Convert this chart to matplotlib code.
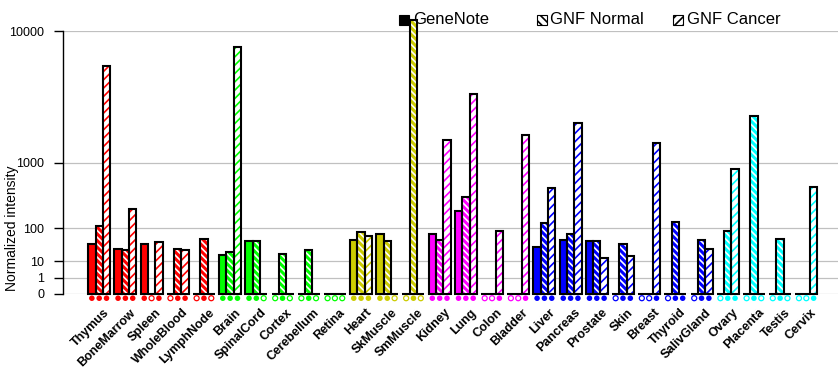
import numpy as np
import matplotlib
matplotlib.use("Agg")
import matplotlib.pyplot as plt
from matplotlib.patches import Rectangle
from matplotlib.transforms import ScaledTranslation, blended_transform_factory

nan = np.nan

# tissues in display order, and the colour of their group
tissues = ["Thymus", "BoneMarrow", "Spleen", "WholeBlood", "LymphNode",
           "Brain", "SpinalCord", "Cortex", "Cerebellum", "Retina",
           "Heart", "SkMuscle", "SmMuscle",
           "Kidney", "Lung", "Colon", "Bladder",
           "Liver", "Pancreas", "Prostate", "Skin", "Breast", "Thyroid", "SalivGland",
           "Ovary", "Placenta", "Testis", "Cervix"]
group_sizes = [5, 5, 3, 4, 7, 4]
group_colors = ["#ff0000", "#00ff00", "#cccc00", "#ff00ff", "#0000ff", "#00ffff"]

# nan = no data (open marker), number = measured (filled marker)
genenote = [40, 29, 40, nan, nan, 17.6, 48, nan, nan, nan,
            53, 75, nan,
            75, 219, nan, nan,
            33, 51, 48, nan, nan, nan, nan,
            nan, nan, nan, nan]
gnf_normal = [114, 27, nan, 29, 56, 23, 48, 19.6, 27, nan,
              81, 48, 11500,
              53, 366, nan, nan,
              127, 75, 48, 41, nan, 137, 51,
              88, 2740, 56, nan]
gnf_cancer = [6200, 237, 45, 25.7, nan, 8100, nan, nan, nan, nan,
              67, nan, nan,
              1700, 4050, 85, 1880,
              491, 2390, 13.9, 16.6, 1590, 0, 29,
              848, nan, nan, 507]

yticks = [0, 1, 10, 100, 1000, 10000]

# each decade takes half the height of the next one -> power scale
p = np.log10(2)
fwd = lambda v: np.sign(v) * np.abs(v) ** p
inv = lambda v: np.sign(v) * np.abs(v) ** (1 / p)

plt.rcParams['font.family'] = ['Liberation Sans', 'DejaVu Sans']
plt.rcParams['hatch.linewidth'] = 1.2

colors = [c for c, n in zip(group_colors, group_sizes) for _ in range(n)]
x = np.arange(len(tissues))
w = 0.28

fig = plt.figure(figsize=(8.4, 3.85), dpi=100)
ax = fig.add_axes([63 / 840, 1 - 294 / 385, 775 / 840, 263 / 385])
ax.set_yscale('function', functions=(fwd, inv))
ax.set_ylim(0, 10000)
ax.set_xlim(-1.382, 28.21)

series = [(genenote, -w, None), (gnf_normal, 0, '\\\\\\\\\\'), (gnf_cancer, w, '////')]
for vals, off, hatch in series:
    vals = np.array(vals, dtype=float)
    h = np.nan_to_num(vals)
    if hatch is None:
        ax.bar(x + off, h, w, color=colors, linewidth=0, zorder=3, clip_on=False)
    elif hatch.startswith('\\'):
        ax.bar(x + off, h, w, color=colors, edgecolor='white', hatch=hatch,
               linewidth=0, zorder=3, clip_on=False)
    else:
        ax.bar(x + off, h, w, color='white', edgecolor=colors, hatch=hatch,
               linewidth=0, zorder=3, clip_on=False)
    ax.bar(x + off, h, w, fill=False, edgecolor='black', linewidth=1.5,
           zorder=4, clip_on=False)

    # availability markers under the bars
    trans = blended_transform_factory(ax.transData, ax.transAxes)
    have = ~np.isnan(vals)
    ax.scatter(x[have] + off, np.full(have.sum(), -0.016), s=16, marker='o',
               c=[colors[i] for i in np.where(have)[0]], linewidths=0,
               transform=trans, clip_on=False, zorder=5)
    ax.scatter(x[~have] + off, np.full((~have).sum(), -0.016), s=13, marker='o',
               facecolors='white', edgecolors=[colors[i] for i in np.where(~have)[0]],
               linewidths=0.9, transform=trans, clip_on=False, zorder=5)

ax.set_yticks(yticks)
ax.set_yticklabels([str(t) for t in yticks], fontsize=9)
ax.yaxis.set_minor_locator(matplotlib.ticker.NullLocator())
ax.tick_params(axis='y', length=6.5, width=1, pad=7)
ax.grid(axis='y', color='#c0c0c0', linewidth=0.9, zorder=0)
ax.set_axisbelow(True)
ax.set_ylabel("Normalized intensity", fontsize=10)
ax.yaxis.set_label_coords(-44 / 775, 0.25)

ax.set_xticks(x)
ax.set_xticklabels(tissues, rotation=45, ha='right', va='top',
                   rotation_mode='anchor', fontsize=9, fontweight='bold')
ax.tick_params(axis='x', length=0, pad=9)
shift = ScaledTranslation(4 / 100, 0, fig.dpi_scale_trans)
for lab in ax.get_xticklabels():
    lab.set_transform(lab.get_transform() + shift)

for s in ['top', 'right', 'bottom']:
    ax.spines[s].set_visible(False)
ax.spines['left'].set_linewidth(1)

# legend across the top
W, H = 840, 385
legend = [("GeneNote", 399, 413, dict(facecolor='black', edgecolor='black')),
          ("GNF Normal", 537, 550, dict(facecolor='white', edgecolor='black', hatch='\\\\\\\\')),
          ("GNF Cancer", 673, 687, dict(facecolor='white', edgecolor='black', hatch='////'))]
for name, bx, tx, style in legend:
    fig.patches.append(Rectangle((bx / W, 1 - 25 / H), 10 / W, 10 / H,
                                 transform=fig.transFigure, linewidth=0.8,
                                 zorder=10, **style))
    fig.text(tx / W, 1 - 20 / H, name, fontsize=12, va='center', ha='left', zorder=10)

fig.savefig("out.png", dpi=100)
